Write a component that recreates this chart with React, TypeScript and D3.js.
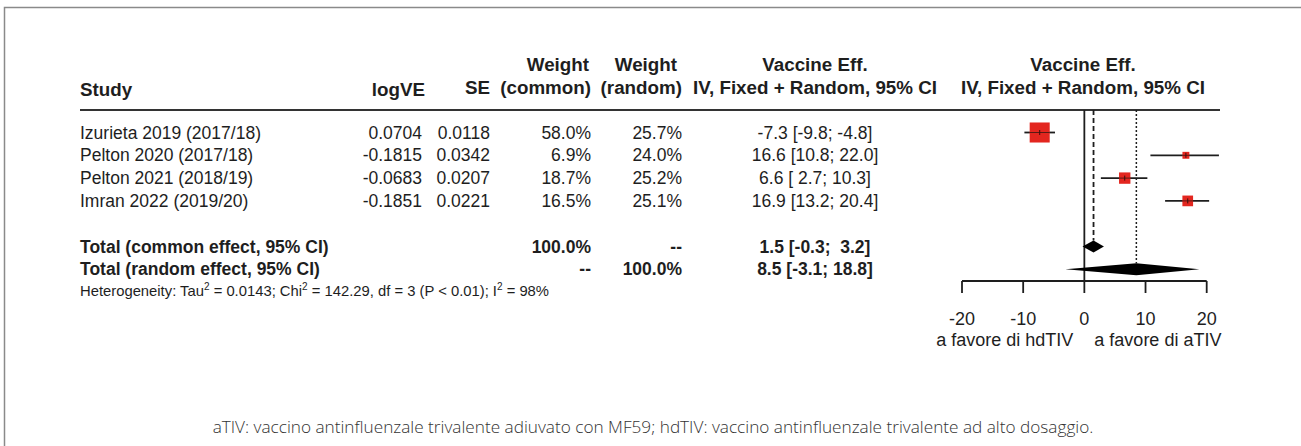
import React from 'react';
import * as d3 from 'd3';

// study rows
const studies = ['Izurieta 2019 (2017/18)', 'Pelton 2020 (2017/18)', 'Pelton 2021 (2018/19)', 'Imran 2022 (2019/20)'];
const logVE = ['0.0704', '-0.1815', '-0.0683', '-0.1851'];
const seVals = ['0.0118', '0.0342', '0.0207', '0.0221'];
const wCommon = [58.0, 6.9, 18.7, 16.5];
const wRandom = [25.7, 24.0, 25.2, 25.1];
const veEst = [-7.3, 16.6, 6.6, 16.9];
const veLo = [-9.8, 10.8, 2.7, 13.2];
const veHi = [-4.8, 22.0, 10.3, 20.4];

// pooled estimates
const totalLabels = ['Total (common effect, 95% CI)', 'Total (random effect, 95% CI)'];
const totalWCommon = ['100.0%', '--'];
const totalWRandom = ['--', '100.0%'];
const totalEst = [1.5, 8.5];
const totalLo = [-0.3, -3.1];
const totalHi = [3.2, 18.8];

const axisTicks = [-20, -10, 0, 10, 20];
const labelLeft = 'a favore di hdTIV';
const labelRight = 'a favore di aTIV';
const caption = 'aTIV: vaccino antinfluenzale trivalente adiuvato con MF59; hdTIV: vaccino antinfluenzale trivalente ad alto dosaggio.';

const W = 1301;
const H = 446;
const font = "'Liberation Sans', Arial, sans-serif";
const ink = '#1e1e1e';
const red = '#e3261f';

const fmtCI = (e: number, lo: number, hi: number) =>
  `${e.toFixed(1)} [${lo.toFixed(1).padStart(4)}; ${hi.toFixed(1).padStart(4)}]`;

const App = () => {
  const x = d3.scaleLinear().domain([-20, 20]).range([962, 1206.7]);
  const row = d3.scaleLinear().domain([0, 1]).range([132.5, 155.3]);
  const axisY = 281;
  const dh = 6; // diamond half height

  const diamond = (lo: number, est: number, hi: number, cy: number) =>
    `M${x(lo)},${cy} L${x(est)},${cy - dh} L${x(hi)},${cy} L${x(est)},${cy + dh} Z`;

  const col = { study: 80, logve: 422, se: 490, wc: 591, wr: 682, ve: 815, plot: 1083 };
  const head1 = 71;
  const head2 = 94;
  const pre = { whiteSpace: 'pre' as const };

  return (
    <svg width={W} height={H} style={{ position: 'absolute', left: 0, top: 0 }} fontFamily={font}>
      <rect x={0} y={0} width={W} height={H} fill="#fff" />
      <path d="M4.5,460 L4.5,7.5 L1320,7.5" fill="none" stroke="#8a8a8a" strokeWidth={1.5} />

      {/* header */}
      <g fontWeight="bold" fontSize={18.8} fill={ink}>
        <text x={col.study} y={head2 + 2}>Study</text>
        <text x={col.logve + 3} y={head2 + 2} textAnchor="end">logVE</text>
        <text x={col.se} y={head2} textAnchor="end">SE</text>
        <text x={col.wc - 2} y={head1} textAnchor="end">Weight</text>
        <text x={col.wc} y={head2} textAnchor="end">(common)</text>
        <text x={col.wr - 5} y={head1} textAnchor="end">Weight</text>
        <text x={col.wr} y={head2} textAnchor="end">(random)</text>
        <text x={col.ve} y={head1} textAnchor="middle">Vaccine Eff.</text>
        <text x={col.ve} y={head2} textAnchor="middle">IV, Fixed + Random, 95% CI</text>
        <text x={col.plot} y={head1} textAnchor="middle">Vaccine Eff.</text>
        <text x={col.plot} y={head2} textAnchor="middle">IV, Fixed + Random, 95% CI</text>
      </g>
      <line x1={80} x2={1220} y1={110} y2={110} stroke="#333" strokeWidth={2} />

      {/* study rows */}
      <g fontSize={17.5} fill={ink}>
        {studies.map((s, i) => (
          <g key={s}>
            <text x={col.study} y={row(i) + 6}>{s}</text>
            <text x={col.logve} y={row(i) + 6} textAnchor="end">{logVE[i]}</text>
            <text x={col.se} y={row(i) + 6} textAnchor="end">{seVals[i]}</text>
            <text x={col.wc} y={row(i) + 6} textAnchor="end">{wCommon[i].toFixed(1)}%</text>
            <text x={col.wr} y={row(i) + 6} textAnchor="end">{wRandom[i].toFixed(1)}%</text>
            <text x={col.ve} y={row(i) + 6} textAnchor="middle" style={pre}>{fmtCI(veEst[i], veLo[i], veHi[i])}</text>
          </g>
        ))}
      </g>

      {/* totals */}
      <g fontSize={17.5} fontWeight="bold" fill={ink}>
        {totalLabels.map((t, i) => (
          <g key={t}>
            <text x={col.study} y={row(5 + i) + 6}>{t}</text>
            <text x={col.wc} y={row(5 + i) + 6} textAnchor="end">{totalWCommon[i]}</text>
            <text x={col.wr} y={row(5 + i) + 6} textAnchor="end">{totalWRandom[i]}</text>
            <text x={col.ve} y={row(5 + i) + 6} textAnchor="middle" style={pre}>{fmtCI(totalEst[i], totalLo[i], totalHi[i])}</text>
          </g>
        ))}
      </g>
      <text x={col.study} y={row(7) + 4} fontSize={14.8} fill={ink}>
        Heterogeneity: Tau<tspan dy={-6} fontSize={10}>2</tspan><tspan dy={6}> = 0.0143; Chi</tspan>
        <tspan dy={-6} fontSize={10}>2</tspan><tspan dy={6}> = 142.29, df = 3 (P &lt; 0.01); I</tspan>
        <tspan dy={-6} fontSize={10}>2</tspan><tspan dy={6}> = 98%</tspan>
      </text>

      {/* reference lines */}
      <line x1={x(0)} x2={x(0)} y1={110} y2={axisY} stroke={ink} strokeWidth={1.8} />
      <line x1={x(totalEst[0])} x2={x(totalEst[0])} y1={110} y2={row(5) - dh} stroke={ink} strokeWidth={1.8} strokeDasharray="5,3" />
      <line x1={x(totalEst[1])} x2={x(totalEst[1])} y1={110} y2={row(6) - dh} stroke={ink} strokeWidth={1.5} strokeDasharray="2,2" />

      {/* study marks */}
      {studies.map((s, i) => {
        const side = Math.sqrt(wCommon[i]) * 2.63;
        const cx = x(veEst[i]);
        const cy = row(i);
        return (
          <g key={s}>
            <line x1={x(veLo[i])} x2={x(veHi[i])} y1={cy} y2={cy} stroke={ink} strokeWidth={1.8} />
            <rect x={cx - side / 2} y={cy - side / 2} width={side} height={side} fill={red} />
            <line x1={cx - side / 2} x2={cx + side / 2} y1={cy} y2={cy} stroke="#5a1a14" strokeWidth={1} />
            <line x1={cx} x2={cx} y1={cy - 2.5} y2={cy + 2.5} stroke="#3a0f0c" strokeWidth={1} />
          </g>
        );
      })}

      {/* pooled diamonds */}
      {totalEst.map((e, i) => (
        <path key={i} d={diamond(totalLo[i], e, totalHi[i], row(5 + i))} fill="#000" />
      ))}

      {/* axis */}
      <g stroke={ink} strokeWidth={1.8}>
        <line x1={x(-20)} x2={x(20)} y1={axisY} y2={axisY} />
        {axisTicks.map((t) => (
          <line key={t} x1={x(t)} x2={x(t)} y1={axisY} y2={axisY + 12} />
        ))}
      </g>
      <g fontSize={18} fill={ink} textAnchor="middle">
        {axisTicks.map((t) => (
          <text key={t} x={x(t)} y={325}>{t}</text>
        ))}
      </g>
      <text x={x(0) - 11} y={346} fontSize={18} fill={ink} textAnchor="end">{labelLeft}</text>
      <text x={x(0) + 10} y={346} fontSize={18} fill={ink}>{labelRight}</text>

      <text x={653} y={433} fontSize={17.2} fontFamily="'Open Sans', sans-serif" fontWeight={300} fill="#333" textAnchor="middle">
        {caption}
      </text>
    </svg>
  );
};

export default App;
